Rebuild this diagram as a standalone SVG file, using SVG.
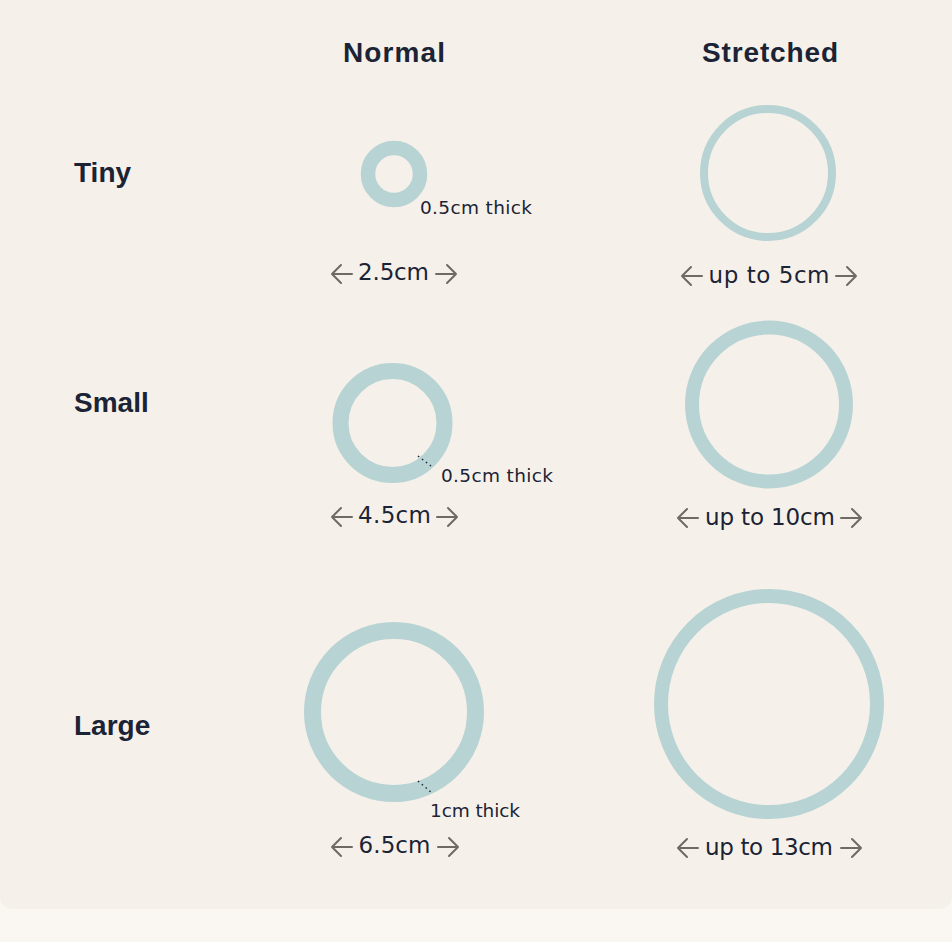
<svg xmlns="http://www.w3.org/2000/svg" width="952" height="942" viewBox="0 0 952 942">
  <defs>
    <style>
      .ring { fill: none; stroke: #b7d3d3; }
      .hdr { font-family: "Liberation Sans", Arial, sans-serif; font-weight: bold; font-size: 28px; fill: #1b2335; }
      .dim { font-family: "DejaVu Sans", "Liberation Sans", sans-serif; font-size: 23px; fill: #1b2335; text-anchor: middle; }
      .thk { font-family: "DejaVu Sans", "Liberation Sans", sans-serif; font-size: 18.5px; fill: #1b2335; }
      .arr { fill: none; stroke: #6e6a66; stroke-width: 2; stroke-linecap: round; stroke-linejoin: round; }
      .dot { fill: none; stroke: #1b2335; stroke-width: 1.5; stroke-dasharray: 1.5 3.5; }
    </style>
    <g id="la"><path class="arr" d="M0 0 H20 M0 0 L9 -9 M0 0 L9 9"/></g>
    <g id="ra"><path class="arr" d="M0 0 H-20 M0 0 L-9 -9 M0 0 L-9 9"/></g>
  </defs>

  <rect x="0" y="0" width="952" height="942" fill="#faf7f3"/>
  <rect x="0" y="-20" width="952" height="929" rx="12" fill="#f5f1ea"/>

  <g id="headers">
    <text class="hdr" x="394" y="62" text-anchor="middle" textLength="102">Normal</text>
    <text class="hdr" x="770" y="62" text-anchor="middle" textLength="136">Stretched</text>
  </g>
  <g id="row-labels">
    <text class="hdr" x="74" y="182">Tiny</text>
    <text class="hdr" x="74" y="412">Small</text>
    <text class="hdr" x="74" y="735">Large</text>
  </g>

  <g id="tiny-normal">
    <circle class="ring" cx="394" cy="174" r="26" stroke-width="14.5"/>
    <text class="thk" x="420" y="214" textLength="112">0.5cm thick</text>
    <use href="#la" x="332" y="274"/>
    <text class="dim" x="393.5" y="280" textLength="71">2.5cm</text>
    <use href="#ra" x="456" y="274"/>
  </g>

  <g id="tiny-stretched">
    <circle class="ring" cx="768" cy="173" r="64" stroke-width="8"/>
    <use href="#la" x="682" y="276"/>
    <text class="dim" x="769" y="283" textLength="121">up to 5cm</text>
    <use href="#ra" x="856" y="276"/>
  </g>

  <g id="small-normal">
    <circle class="ring" cx="392.5" cy="423" r="52" stroke-width="16"/>
    <text class="thk" x="441" y="482" textLength="112">0.5cm thick</text>
    <use href="#la" x="332" y="517"/>
    <text class="dim" x="394.5" y="523" textLength="73">4.5cm</text>
    <use href="#ra" x="457" y="517"/>
  </g>

  <g id="small-stretched">
    <circle class="ring" cx="769" cy="404.5" r="77" stroke-width="14"/>
    <use href="#la" x="678" y="518"/>
    <text class="dim" x="770" y="525" textLength="130">up to 10cm</text>
    <use href="#ra" x="861" y="518"/>
  </g>

  <g id="large-normal">
    <circle class="ring" cx="394" cy="712" r="81.5" stroke-width="17"/>
    <text class="thk" x="430" y="817" textLength="90">1cm thick</text>
    <use href="#la" x="332" y="847"/>
    <text class="dim" x="394.5" y="853" textLength="72">6.5cm</text>
    <use href="#ra" x="458" y="847"/>
  </g>

  <g id="large-stretched">
    <circle class="ring" cx="769" cy="704" r="108" stroke-width="14"/>
    <use href="#la" x="678" y="848"/>
    <text class="dim" x="769" y="855" textLength="128">up to 13cm</text>
    <use href="#ra" x="861" y="848"/>
  </g>

  <g id="connectors">
    <line class="dot" x1="418" y1="456" x2="431" y2="466"/>
    <line class="dot" x1="418" y1="781" x2="432" y2="793"/>
  </g>
</svg>
